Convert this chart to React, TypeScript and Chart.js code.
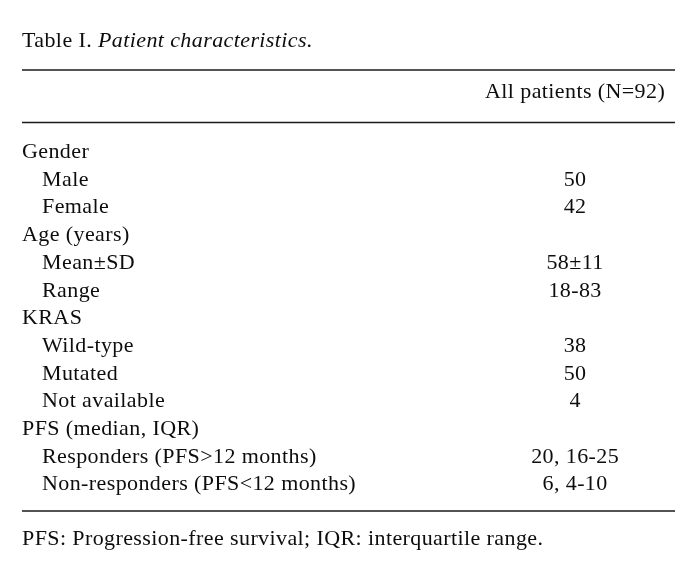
import React, { useEffect, useRef } from "react";
import { Chart, registerables } from "chart.js";

Chart.register(...registerables);

const titlePrefix = "Table I. ";
const titleItalic = "Patient characteristics.";
const columnHeader = "All patients (N=92)";
const rowLabels = [
  "Gender",
  "Male",
  "Female",
  "Age (years)",
  "Mean±SD",
  "Range",
  "KRAS",
  "Wild-type",
  "Mutated",
  "Not available",
  "PFS (median, IQR)",
  "Responders (PFS>12 months)",
  "Non-responders (PFS<12 months)",
];
const rowLevels = [0, 1, 1, 0, 1, 1, 0, 1, 1, 1, 0, 1, 1];
const allPatients = ["", "50", "42", "", "58±11", "18-83", "", "38", "50", "4", "", "20, 16-25", "6, 4-10"];
const footnote = "PFS: Progression-free survival; IQR: interquartile range.";

const FONT = '"Liberation Serif", "Times New Roman", serif';
const INK = "#0d0d0d";
const RULE = "#1a1a1a";

const tablePlugin = {
  id: "tablePlugin",
  afterDraw(chart: any) {
    const ctx = chart.ctx as CanvasRenderingContext2D;
    const area = chart.chartArea;
    const y = chart.scales.y;
    const x = chart.scales.x;
    const valueX = x.getPixelForValue(84.7);
    ctx.save();
    (ctx as any).letterSpacing = "0.4px";
    ctx.fillStyle = INK;
    ctx.textBaseline = "alphabetic";

    // title
    ctx.textAlign = "left";
    ctx.font = `22px ${FONT}`;
    ctx.fillText(titlePrefix, area.left, 47);
    const w = ctx.measureText(titlePrefix).width;
    ctx.font = `italic 22px ${FONT}`;
    ctx.fillText(titleItalic, area.left + w, 47);

    // rules
    ctx.strokeStyle = RULE;
    ctx.lineWidth = 1.7;
    const rule = (yy: number) => {
      ctx.beginPath();
      ctx.moveTo(area.left, yy);
      ctx.lineTo(area.right, yy);
      ctx.stroke();
    };
    rule(70);
    rule(122.5);
    rule(area.bottom + 14);

    // header
    ctx.font = `22px ${FONT}`;
    ctx.textAlign = "center";
    ctx.fillText(columnHeader, valueX, 98);

    // rows
    rowLabels.forEach((label, i) => {
      const cy = y.getPixelForValue(i);
      const base = cy + 7.2;
      ctx.textAlign = "left";
      ctx.fillText(label, area.left + (rowLevels[i] ? 20 : 0), base);
      if (allPatients[i]) {
        ctx.textAlign = "center";
        ctx.fillText(allPatients[i], valueX, base);
      }
    });

    // footnote
    ctx.textAlign = "left";
    ctx.fillText(footnote, area.left, area.bottom + 48);
    ctx.restore();
  },
};

export default function App() {
  const ref = useRef<HTMLCanvasElement | null>(null);
  useEffect(() => {
    document.body.style.margin = "0";
    const canvas = ref.current;
    if (!canvas) return;
    const chart = new Chart(canvas, {
      type: "bar",
      data: {
        labels: rowLabels,
        datasets: [{ label: columnHeader, data: [] }],
      },
      options: {
        animation: false,
        responsive: false,
        indexAxis: "y",
        layout: { padding: { left: 22, right: 23, top: 137, bottom: 90 } },
        plugins: { legend: { display: false }, tooltip: { enabled: false }, title: { display: false } },
        scales: {
          x: { type: "linear", min: 0, max: 100, display: false },
          y: { type: "category", offset: true, display: false },
        },
      },
      plugins: [tablePlugin],
    } as any);
    return () => chart.destroy();
  }, []);
  return (
    <div style={{ width: 698, height: 587, background: "#fff" }}>
      <canvas ref={ref} width={698} height={587} style={{ display: "block" }} />
    </div>
  );
}
